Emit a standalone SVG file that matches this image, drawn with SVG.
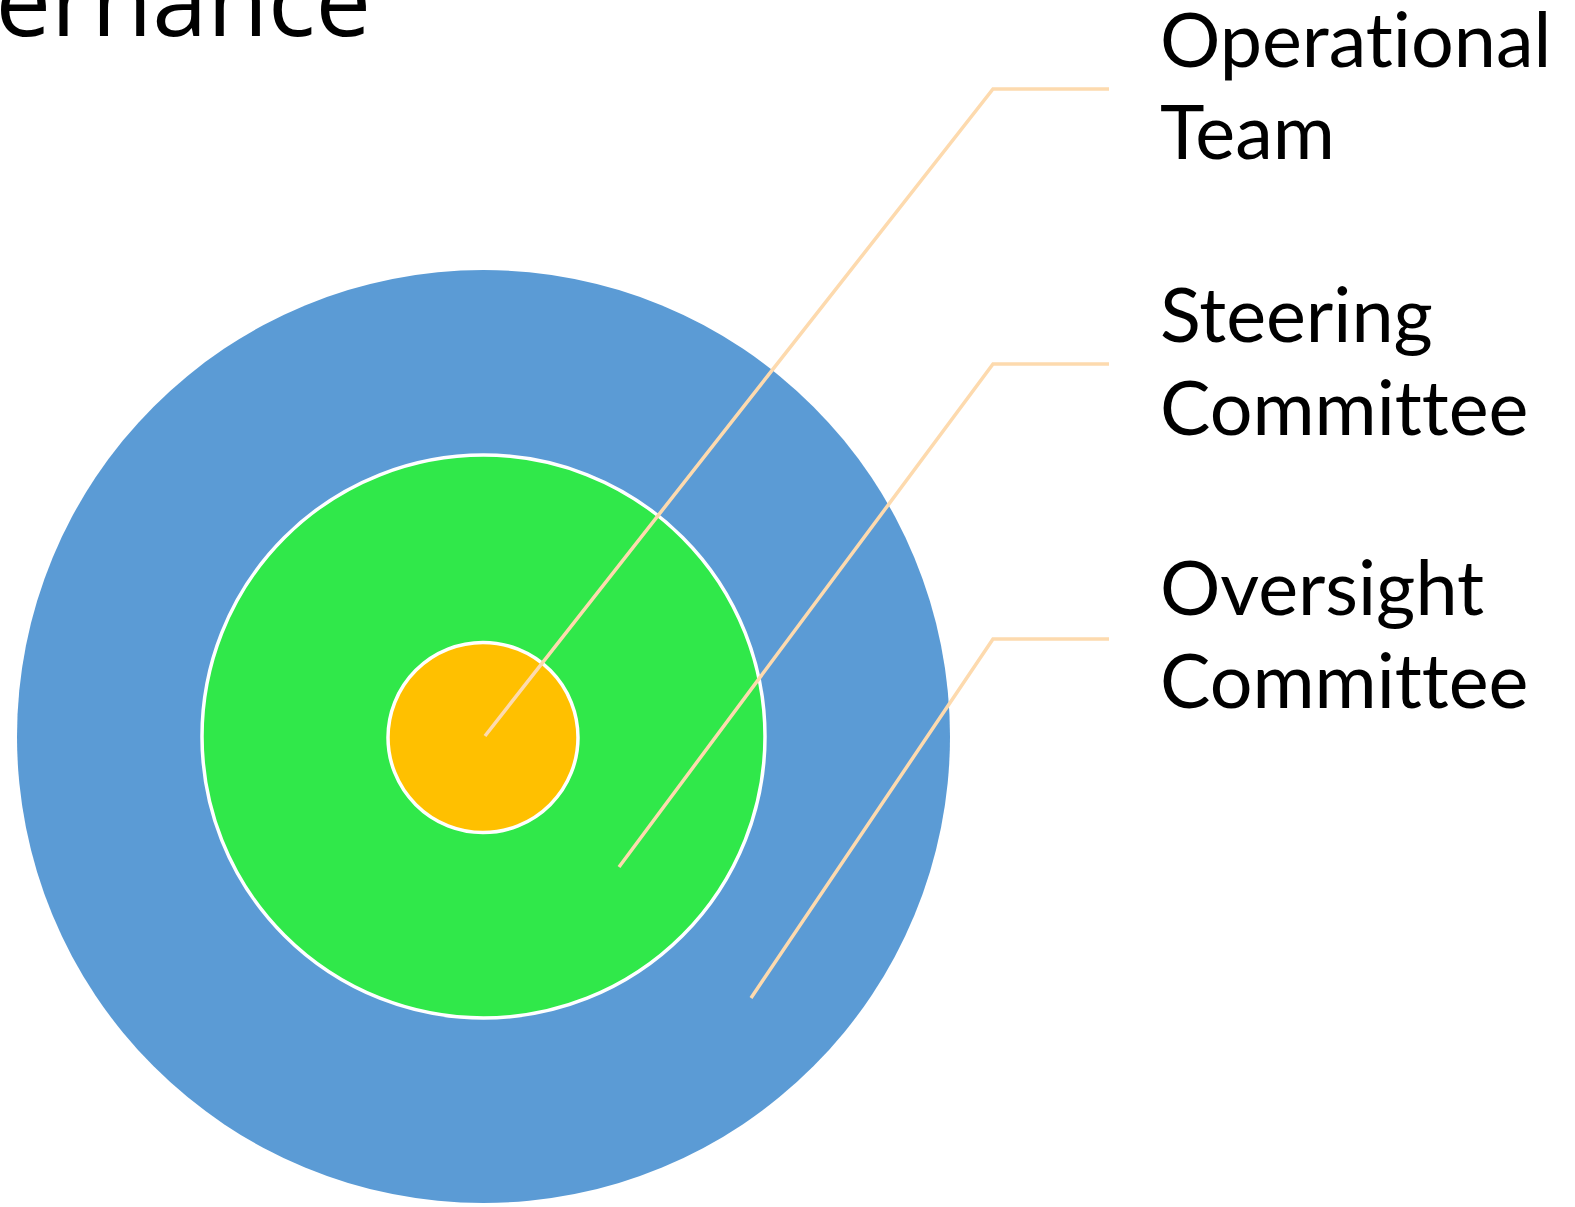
<svg xmlns="http://www.w3.org/2000/svg" width="1575" height="1207" viewBox="0 0 1575 1207">
  <style>
    .lbl { font-family: Lato, "Open Sans", "Liberation Sans", sans-serif; font-size: 75.5px; fill: #000; font-variant-ligatures: none; font-feature-settings: "liga" 0, "clig" 0, "dlig" 0; }
    .title { font-family: "Open Sans", "Noto Sans", sans-serif; font-size: 99px; fill: #000; }
    .ring { stroke: #fff; stroke-width: 3.5; }
    .conn { fill: none; stroke: #FDDAAE; stroke-width: 3.5; stroke-linejoin: miter; }
  </style>
  <rect width="1575" height="1207" fill="#fff"/>
  <text class="title" x="371" y="36" text-anchor="end">ernance</text>

  <g id="oversight-committee">
    <circle cx="483.5" cy="736.5" r="466.5" fill="#5B9BD5"/>
  </g>
  <g id="steering-committee">
    <circle class="ring" cx="483.5" cy="736.5" r="281.5" fill="#30E84A"/>
  </g>
  <g id="operational-team">
    <circle class="ring" cx="483" cy="737.5" r="95" fill="#FFC000"/>
  </g>

  <g id="connectors">
    <polyline class="conn" points="485,736 993,89 1109,89"/>
    <polyline class="conn" points="619,867 993,364 1109,364"/>
    <polyline class="conn" points="751,998 993,639 1109,639"/>
  </g>

  <g id="label-operational">
    <text class="lbl" x="1160" y="67">Operational</text>
    <text class="lbl" x="1160" y="159">Team</text>
  </g>
  <g id="label-steering">
    <text class="lbl" x="1160" y="342">Steering</text>
    <text class="lbl" x="1160" y="435">Committee</text>
  </g>
  <g id="label-oversight">
    <text class="lbl" x="1160" y="615">Oversight</text>
    <text class="lbl" x="1160" y="708">Committee</text>
  </g>
</svg>
